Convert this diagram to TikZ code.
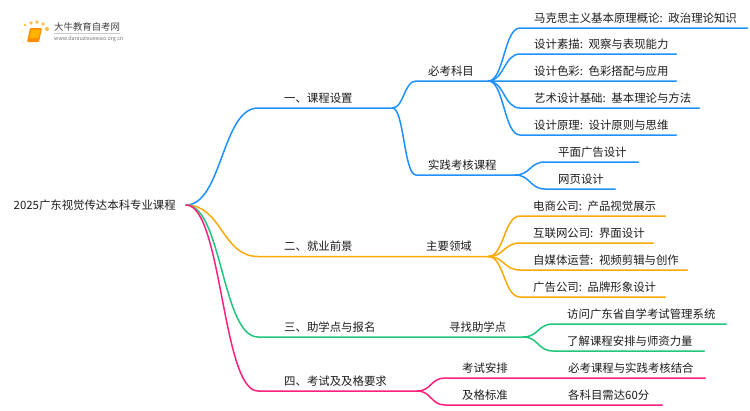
\documentclass[tikz,border=0pt]{standalone}
\usepackage{fontspec}
\setmainfont[WordSpace=0.6]{Noto Sans CJK SC}
\definecolor{bluebr}{HTML}{1E90FF}
\definecolor{orangebr}{HTML}{F9A908}
\definecolor{greenbr}{HTML}{1FC67C}
\definecolor{pinkbr}{HTML}{FF1F7C}
\definecolor{inktext}{HTML}{1C1C1C}
\tikzset{
    topic/.style 2 args={anchor=south west, inner xsep=0pt, inner ysep=5.5pt, text depth=0pt, text width=#1, font=\fontsize{11.4}{13}\selectfont, text=inktext, execute at begin node={\hspace*{#2}}},
    br/.style={line width=1.5pt, line cap=round}
}
\begin{document}
\begin{tikzpicture}[x=1pt,y=-1pt]
    \useasboundingbox (0,0) rectangle (750,410);

    % logo
    \fill[orange!70!yellow!70] (25,25) circle (1.5) (31,23) circle (1.8) (37,22) circle (1.8) (43,24) circle (1.8) (47,29) circle (2.1);
    \fill[orange!35!yellow!35] (22,31) circle (1.3) (21,37) circle (1) (23,42) circle (0.8);
    \fill[rounded corners=1pt, orange!90!yellow] (30,28) -- (42,28) -- (39,42) -- (27,42) -- cycle;
    \fill[rounded corners=0.5pt, orange!60!yellow] (31,29.5) -- (40.5,29.5) -- (38.5,38) -- (29.5,38) -- cycle;
    \node[inner sep=0pt, anchor=west, text=black!75, font=\fontsize{9.4}{10}\selectfont] (logotitle) at (54,27) {大牛教育自考网};
    \node[inner sep=0pt, anchor=west, text=black!55, font=\fontsize{5.4}{6}\selectfont] (logourl) at (54,39) {www.daniuzixuexiao.org.cn};
    \draw[black!20, line width=0.5pt] (logotitle.south west) ++(0,2) -- ++(66,0);

    % root
    \node[anchor=east, inner xsep=10pt, inner ysep=2pt, text=inktext, font=\fontsize{11.4}{14}\selectfont] (root) at (186,205) {2025广东视觉传达本科专业课程};

    % first level
    \node[topic={134pt}{26pt}] (one) at (258,108) {一、课程设置};
    \node[topic={142pt}{26pt}] (two) at (258,256.5) {二、就业前景};
    \node[topic={172pt}{26pt}] (three) at (258,337) {三、助学点与报名};
    \node[topic={159pt}{26pt}] (four) at (258,391) {四、考试及及格要求};

    % second level
    \node[topic={72pt}{12pt}] (must) at (416,81) {必考科目};
    \node[topic={99pt}{12pt}] (prac) at (416,175) {实践考核课程};
    \node[topic={88pt}{26pt}] (field) at (400,256.5) {主要领域};
    \node[topic={93pt}{19pt}] (find) at (430,337) {寻找助学点};
    \node[topic={105pt}{17pt}] (plan) at (445,378) {考试安排};
    \node[topic={105pt}{17pt}] (pass) at (445,405) {及格标准};

    % third level
    \node[topic={227pt}{14pt}] (m1) at (520,28) {马克思主义基本原理概论: 政治理论知识};
    \node[topic={156pt}{14pt}] (m2) at (520,54) {设计素描: 观察与表现能力};
    \node[topic={156pt}{14pt}] (m3) at (520,81) {设计色彩: 色彩搭配与应用};
    \node[topic={179pt}{14pt}] (m4) at (520,108) {艺术设计基础: 基本理论与方法};
    \node[topic={156pt}{14pt}] (m5) at (520,135) {设计原理: 设计原则与思维};
    \node[topic={93pt}{13pt}] (p1) at (545,162) {平面广告设计};
    \node[topic={70pt}{13pt}] (p2) at (545,189) {网页设计};
    \node[topic={145pt}{13pt}] (f1) at (520,216) {电商公司: 产品视觉展示};
    \node[topic={133pt}{13pt}] (f2) at (520,243) {互联网公司: 界面设计};
    \node[topic={167pt}{13pt}] (f3) at (520,270) {自媒体运营: 视频剪辑与创作};
    \node[topic={145pt}{13pt}] (f4) at (520,297) {广告公司: 品牌形象设计};
    \node[topic={173pt}{14pt}] (s1) at (553,324) {访问广东省自学考试管理系统};
    \node[topic={151pt}{14pt}] (s2) at (553,351) {了解课程安排与师资力量};
    \node[topic={155pt}{18pt}] (e1) at (550,378) {必考课程与实践考核结合};
    \node[topic={112pt}{18pt}] (e2) at (550,405) {各科目需达60分};

    % blue branch
    \draw[br,bluebr] (root.east) .. controls (222,205) and (222,108) .. (one.south west) -- (one.south east);
    \draw[br,bluebr] (one.south east) .. controls (404,108) and (404,81) .. (must.south west) -- (must.south east) -- (m3.south west) -- (m3.south east);
    \draw[br,bluebr] (one.south east) .. controls (404,108) and (404,175) .. (prac.south west) -- (prac.south east);
    \foreach \leaf in {m1,m2,m4,m5}
        \draw[br,bluebr] (must.south east) .. controls (504,81) and (504,81 |- \leaf.south west) .. (\leaf.south west) -- (\leaf.south east);
    \foreach \leaf in {p1,p2}
        \draw[br,bluebr] (prac.south east) .. controls (530,175) and (530,175 |- \leaf.south west) .. (\leaf.south west) -- (\leaf.south east);

    % orange branch
    \draw[br,orangebr] (root.east) .. controls (222,205) and (222,256.5) .. (two.south west) -- (two.south east) -- (field.south west) -- (field.south east);
    \foreach \leaf in {f1,f2,f3,f4}
        \draw[br,orangebr] (field.south east) .. controls (504,256.5) and (504,256.5 |- \leaf.south west) .. (\leaf.south west) -- (\leaf.south east);

    % green branch
    \draw[br,greenbr] (root.east) .. controls (222,205) and (222,337) .. (three.south west) -- (three.south east) -- (find.south west) -- (find.south east);
    \foreach \leaf in {s1,s2}
        \draw[br,greenbr] (find.south east) .. controls (538,337) and (538,337 |- \leaf.south west) .. (\leaf.south west) -- (\leaf.south east);

    % pink branch
    \draw[br,pinkbr] (root.east) .. controls (222,205) and (222,391) .. (four.south west) -- (four.south east);
    \draw[br,pinkbr] (four.south east) .. controls (431,391) and (431,378) .. (plan.south west) -- (plan.south east) -- (e1.south west) -- (e1.south east);
    \draw[br,pinkbr] (four.south east) .. controls (431,391) and (431,405) .. (pass.south west) -- (pass.south east) -- (e2.south west) -- (e2.south east);
\end{tikzpicture}
\end{document}
